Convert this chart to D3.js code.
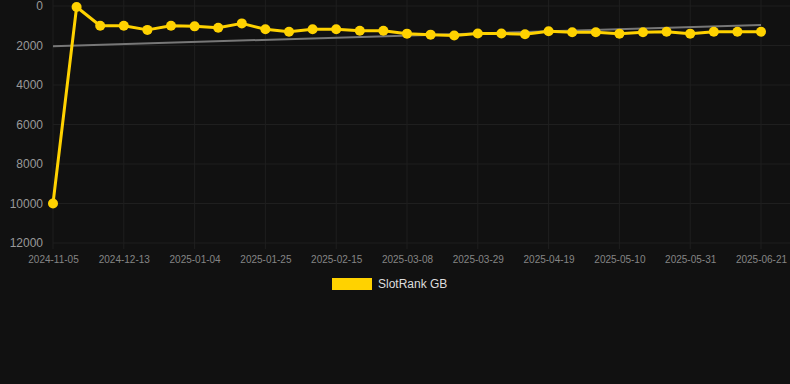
<!DOCTYPE html>
<html>
<head>
<meta charset="utf-8">
<script src="https://cdn.jsdelivr.net/npm/d3@7"></script>
<style>
  html, body { margin: 0; padding: 0; background: #111111; }
  svg { display: block; font-family: Arial, "Liberation Sans", sans-serif; }
</style>
</head>
<body>
<div id="chart"></div>
<script>
// data
let dates = ["2024-11-05", "2024-11-29", "2024-12-06", "2024-12-13", "2024-12-20", "2024-12-27",
    "2025-01-04", "2025-01-11", "2025-01-18", "2025-01-25", "2025-02-01", "2025-02-08",
    "2025-02-15", "2025-02-22", "2025-03-01", "2025-03-08", "2025-03-15", "2025-03-22",
    "2025-03-29", "2025-04-05", "2025-04-12", "2025-04-19", "2025-04-26", "2025-05-03",
    "2025-05-10", "2025-05-17", "2025-05-24", "2025-05-31", "2025-06-07", "2025-06-14",
    "2025-06-21"];
let ranks = [10000, 50, 1000, 1000, 1210, 1000, 1030, 1100, 880, 1180, 1300, 1180,
    1180, 1250, 1250, 1400, 1450, 1490, 1390, 1390, 1430, 1280, 1330, 1330,
    1400, 1330, 1300, 1400, 1300, 1300, 1300];
let yTicks = [0, 2000, 4000, 6000, 8000, 10000, 12000];
let seriesName = "SlotRank GB";

let width = 790, height = 384;
let margin = {top: 6, right: 29, bottom: 141, left: 53};
let lineColor = "#ffd200";
let gridColor = "#1f1f1f";

let svg = d3.select("#chart").append("svg")
    .attr("width", width).attr("height", height);

svg.append("rect").attr("width", width).attr("height", height).attr("fill", "#111111");

let x = d3.scalePoint().domain(dates).range([margin.left, width - margin.right]);
let y = d3.scaleLinear().domain([0, 12000]).range([margin.top, height - margin.bottom]);

// grid
let labelDates = dates.filter(function(d, i) { return i % 3 === 0; });
svg.append("g").selectAll("line").data(yTicks).enter().append("line")
    .attr("x1", margin.left).attr("x2", width)
    .attr("y1", function(d) { return y(d); }).attr("y2", function(d) { return y(d); })
    .attr("stroke", gridColor).attr("stroke-width", 1);
svg.append("g").selectAll("line").data(labelDates).enter().append("line")
    .attr("x1", function(d) { return x(d); }).attr("x2", function(d) { return x(d); })
    .attr("y1", 0).attr("y2", height - margin.bottom + 6)
    .attr("stroke", gridColor).attr("stroke-width", 1);

// axes labels
let yAxis = svg.append("g").attr("transform", "translate(" + (margin.left - 10) + ",0)")
    .call(d3.axisLeft(y).tickValues(yTicks).tickSize(0).tickFormat(d3.format("d")));
yAxis.select(".domain").remove();
yAxis.selectAll("text").attr("fill", "#999").style("font-size", "12px").attr("x", 0);

let xAxis = svg.append("g").attr("transform", "translate(0," + (height - margin.bottom + 10) + ")")
    .call(d3.axisBottom(x).tickValues(labelDates).tickSize(0));
xAxis.select(".domain").remove();
xAxis.selectAll("text").attr("fill", "#858585").style("font-size", "10px").attr("dy", "0.71em");

// trend line (least squares over the series)
let n = ranks.length;
let mx = d3.mean(ranks, function(d, i) { return i; });
let my = d3.mean(ranks);
let sxy = d3.sum(ranks, function(d, i) { return (i - mx) * (d - my); });
let sxx = d3.sum(ranks, function(d, i) { return (i - mx) * (i - mx); });
let slope = sxy / sxx, icpt = my - slope * mx;
svg.append("line")
    .attr("x1", x(dates[0])).attr("y1", y(icpt))
    .attr("x2", x(dates[n - 1])).attr("y2", y(icpt + slope * (n - 1)))
    .attr("stroke", "#777").attr("stroke-width", 2);

// series
let line = d3.line()
    .x(function(d, i) { return x(dates[i]); })
    .y(function(d) { return y(d); });
svg.append("path").datum(ranks).attr("d", line)
    .attr("fill", "none").attr("stroke", lineColor).attr("stroke-width", 3)
    .attr("stroke-linejoin", "round");
svg.append("g").selectAll("circle").data(ranks).enter().append("circle")
    .attr("cx", function(d, i) { return x(dates[i]); })
    .attr("cy", function(d) { return y(d); })
    .attr("r", 5).attr("fill", lineColor);

// legend
let legend = svg.append("g").attr("transform", "translate(332,278)");
legend.append("rect").attr("width", 40).attr("height", 12).attr("fill", lineColor);
legend.append("text").attr("x", 46).attr("y", 6).attr("dy", "0.35em")
    .attr("fill", "#ddd").style("font-size", "12px").text(seriesName);
</script>
</body>
</html>
